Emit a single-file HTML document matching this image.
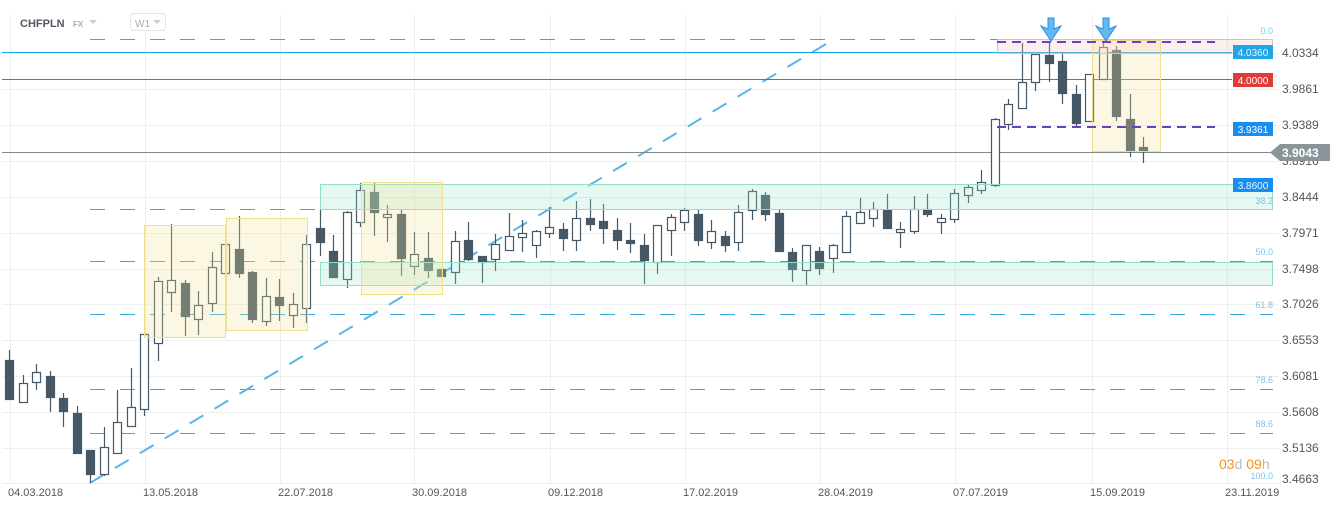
<!DOCTYPE html>
<html><head><meta charset="utf-8">
<style>
html,body{margin:0;padding:0;background:#fff;width:1343px;height:509px;overflow:hidden}
svg{display:block;font-family:"Liberation Sans",sans-serif}
</style></head>
<body>
<svg id="c" width="1343" height="509" viewBox="0 0 1343 509" xmlns="http://www.w3.org/2000/svg">
<g id="grid" stroke="#eeeeee" stroke-width="1"></g>
<g id="fib"></g>
<line x1="90" y1="483" x2="826" y2="44" stroke="#55b8e8" stroke-width="2" stroke-dasharray="16,13"/>
<line x1="2" y1="52.5" x2="1232" y2="52.5" stroke="#1aa7e8" stroke-width="1"/>
<line x1="2" y1="79.5" x2="1232" y2="79.5" stroke="#e04545" stroke-width="1"/>
<line x1="2" y1="152.5" x2="1272" y2="152.5" stroke="#7f8c8d" stroke-width="1"/>
<g id="candles"></g>
<!-- boxes -->
<rect x="320.5" y="184.5" width="952" height="25" fill="rgba(150,228,200,0.25)" stroke="#8fe0c4"/>
<rect x="320.5" y="262.5" width="952" height="23" fill="rgba(150,228,200,0.25)" stroke="#8fe0c4"/>
<rect x="144.5" y="225.5" width="81" height="112" fill="rgba(240,228,150,0.28)" stroke="#f0e08a"/>
<rect x="226.5" y="218.5" width="81" height="112" fill="rgba(240,228,150,0.28)" stroke="#f0e08a"/>
<rect x="361.5" y="182.5" width="81" height="112" fill="rgba(240,228,150,0.28)" stroke="#f0e08a"/>
<rect x="1092.5" y="40.5" width="68" height="111" fill="rgba(240,228,150,0.28)" stroke="#f0e08a"/>
<rect x="997.5" y="39.5" width="275" height="14" fill="rgba(250,190,190,0.25)" stroke="#f4b4b4"/>
<line x1="997" y1="42" x2="1215" y2="42" stroke="#6a3fc0" stroke-width="2" stroke-dasharray="9,6"/>
<line x1="997" y1="127" x2="1215" y2="127" stroke="#6a3fc0" stroke-width="2" stroke-dasharray="9,6"/>
<!-- arrows -->
<g fill="#64b8f4" stroke="#2a8fe0" stroke-width="1">
<path d="M1048,18 L1054,18 L1054,29 L1061,26 L1051,41 L1041,26 L1048,29 Z"/>
<path d="M1103,18 L1109,18 L1109,29 L1116,26 L1106,41 L1096,26 L1103,29 Z"/>
</g>
<!-- fib labels -->
<g font-size="9" fill="#7cc4e8" text-anchor="end">
<text x="1273" y="34">0.0</text>
<text x="1273" y="204">38.2</text>
<text x="1273" y="255">50.0</text>
<text x="1273" y="308">61.8</text>
<text x="1273" y="383">78.6</text>
<text x="1273" y="427">88.6</text>
<text x="1273" y="479">100.0</text>
</g>
<!-- right labels -->
<rect x="1233" y="45" width="40" height="14" fill="#1ea6e8"/>
<text x="1253" y="56" font-size="10" fill="#e8f6fd" text-anchor="middle">4.0360</text>
<rect x="1233" y="73" width="40" height="14" fill="#e03a3a"/>
<text x="1253" y="84" font-size="10" fill="#fff" text-anchor="middle">4.0000</text>
<rect x="1233" y="122" width="40" height="14" fill="#1a8ef0"/>
<text x="1253" y="133" font-size="10" fill="#fff" text-anchor="middle">3.9361</text>
<rect x="1233" y="178" width="40" height="14" fill="#1a8ef0"/>
<text x="1253" y="189" font-size="10" fill="#e8f6fd" text-anchor="middle">3.8600</text>
<g id="axis" font-size="12" fill="#555"></g>
<path d="M1270,152.5 L1280,144 L1330,144 L1330,161 L1280,161 Z" fill="#8a9599"/>
<text x="1282" y="157" font-size="12" font-weight="bold" fill="#fff">3.9043</text>
<g id="dates" font-size="11" fill="#555"></g>
<text x="1219" y="469" font-size="14"><tspan fill="#f7931e">03</tspan><tspan fill="#bbb">d </tspan><tspan fill="#f7931e">09</tspan><tspan fill="#bbb">h</tspan></text>
<!-- header -->
<text x="20" y="27" font-size="11" font-weight="bold" fill="#556">CHFPLN</text>
<text x="73" y="27" font-size="8" font-weight="bold" fill="#aab">FX</text>
<path d="M89,20 L97,20 L93,24 Z" fill="#ccc"/>
<rect x="130.5" y="13.5" width="35" height="17" rx="3" fill="#fff" stroke="#e4e4e4"/>
<text x="135" y="27" font-size="10" fill="#aaa">W1</text>
<path d="M153,20 L161,20 L157,24 Z" fill="#ccc"/>
</svg>
<script>
var NS="http://www.w3.org/2000/svg";
function el(p,t,a,txt){var e=document.createElementNS(NS,t);for(var k in a)e.setAttribute(k,a[k]);if(txt)e.textContent=txt;p.appendChild(e);return e;}
var g=document.getElementById("grid");
var ys=[53,89,125,161,197,233,269,304,340,376,412,448,483];
var labs=["4.0334","3.9861","3.9389","3.8916","3.8444","3.7971","3.7498","3.7026","3.6553","3.6081","3.5608","3.5136","3.4663"];
ys.forEach(function(y){el(g,"line",{x1:2,y1:y+.5,x2:1279,y2:y+.5});});
var xs=[10,145,280,414,550,685,820,955,1092,1227];
xs.forEach(function(x){el(g,"line",{x1:x+.5,y1:15,x2:x+.5,y2:483});});
var ax=document.getElementById("axis");
labs.forEach(function(l,i){var y=ys[i];if(i==12)y=479;el(ax,"text",{x:1282,y:y+4},l);});
var dl=["04.03.2018","13.05.2018","22.07.2018","30.09.2018","09.12.2018","17.02.2019","28.04.2019","07.07.2019","15.09.2019","23.11.2019"];
var dg=document.getElementById("dates");
dl.forEach(function(d,i){el(dg,"text",{x:xs[i]-2,y:496},d);});
var fg=document.getElementById("fib");
[39,209,261,314,389,433].forEach(function(y){el(fg,"line",{x1:90,y1:y+.5,x2:1273,y2:y+.5,stroke:"#3aa8dc","stroke-width":1,"stroke-dasharray":"15,15"});});
// [bodyTop, bodyBottom, wickTop, wickBottom, filled]
var D=[
[360,399,350,400,1],[383,402,375,402,0],[372,382,364,390,0],[376,397,371,412,1],[398,411,393,427,1],
[413,453,406,453,1],[450,474,450,483,1],[447,474,427,476,0],[422,453,390,453,0],[407,426,368,427,0],
[334,409,334,416,0],[281,343,277,361,0],[280,292,224,312,0],[283,316,280,336,1],[305,319,291,335,0],
[267,303,252,312,0],[244,273,244,273,0],[249,273,216,278,1],[272,319,271,323,1],[296,321,278,326,0],
[297,305,279,321,1],[304,315,293,328,0],[244,308,235,323,0],[228,242,209,256,1],[251,277,235,278,1],
[212,279,211,288,0],[190,222,183,227,0],[192,212,183,236,1],[214,217,205,242,0],[214,258,209,276,1],
[254,266,232,275,0],[258,270,232,278,1],[269,276,269,276,1],[241,272,231,284,0],[240,259,222,261,1],
[256,262,256,283,1],[244,259,234,271,0],[236,250,213,250,0],[233,237,220,252,0],[231,245,230,258,0],
[227,233,207,238,0],[229,238,223,251,1],[218,240,201,251,0],[218,224,199,231,1],[221,228,204,244,1],
[230,240,218,250,1],[240,243,223,253,1],[245,260,234,284,1],[225,262,225,274,0],[217,230,214,256,0],
[210,222,208,231,0],[214,240,210,246,1],[231,242,220,249,0],[236,245,231,252,1],[212,242,205,251,0],
[191,210,189,220,0],[195,214,192,221,1],[213,251,210,251,1],[252,269,248,282,1],[245,270,245,285,0],
[251,268,247,275,1],[245,258,244,273,0],[216,252,211,252,0],[212,223,198,224,0],[209,218,202,227,0],
[210,228,194,228,1],[229,232,222,248,0],[209,231,196,234,0],[209,214,194,217,1],[218,222,214,234,0],
[193,219,189,223,0],[187,195,185,203,0],[182,190,170,194,0],[119,185,118,187,0],[104,124,99,130,0],
[82,108,43,108,0],[54,82,54,91,0],[55,63,43,82,1],[61,93,52,104,1],[94,123,85,127,1],
[74,121,74,121,0],[47,79,42,80,0],[50,116,46,121,1],[119,151,94,157,1],[147,151,137,163,1]];
var cg=document.getElementById("candles");
D.forEach(function(d,i){
 var x=Math.round(9.3+13.5*i)+0.5;
 el(cg,"line",{x1:x,y1:d[2],x2:x,y2:d[3],stroke:"#465865","stroke-width":1.2});
 var h=Math.max(d[1]-d[0],2);
 el(cg,"rect",{x:x-4,y:d[0]+.5,width:8,height:h,fill:d[4]?"#465865":"#fff",stroke:"#465865","stroke-width":1.2});
});
</script>
</body></html>
